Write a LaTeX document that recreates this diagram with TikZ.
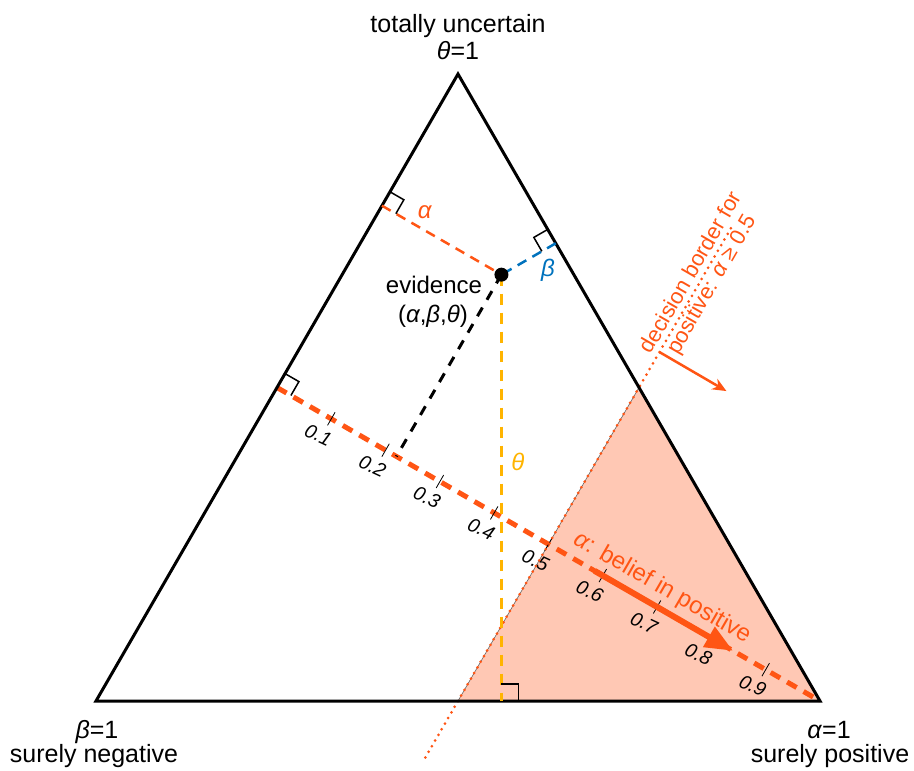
\documentclass[tikz,border=0pt]{standalone}
\usepackage{fontspec}
\setmainfont{Liberation Sans}
\usetikzlibrary{calc,arrows.meta}
\definecolor{orng}{RGB}{255,85,20}
\definecolor{pinkf}{RGB}{255,200,180}
\definecolor{blu}{RGB}{0,114,189}
\definecolor{yel}{RGB}{255,180,0}
\begin{document}
\begin{tikzpicture}[x=1pt,y=-1pt,
  big/.style={font=\fontsize{24}{28}\selectfont, inner sep=0pt},
  corner/.style={font=\fontsize{25}{29}\selectfont, inner sep=0pt},
  ticklab/.style={font=\fontsize{19.5}{22}\selectfont\itshape, inner sep=0pt, rotate=-25},
  thindash/.style={line width=2.5pt, dash pattern=on 10pt off 7pt},
  rmark/.style={line width=1.5pt},
  tickmark/.style={line width=0.8pt}]
\useasboundingbox (0,0) rectangle (914,771);
\coordinate (B) at (96,701);
\coordinate (A) at (820,701);
\coordinate (T) at (458,74);
\coordinate (M) at ($(B)!0.5!(T)$);
\coordinate (MB) at ($(B)!0.5!(A)$);
\coordinate (MR) at ($(A)!0.5!(T)$);
\coordinate (P) at (barycentric cs:A=0.22,B=0.10,T=0.68);
\coordinate (Pa) at ($(B)!(P)!(T)$);
\coordinate (Pb) at ($(A)!(P)!(T)$);
\coordinate (Pt) at ($(B)!(P)!(A)$);
\coordinate (Pax) at ($(M)!(P)!(A)$);
% positive region
\fill[pinkf] (MB) -- (A) -- (MR) -- cycle;
\draw[line width=0.6pt, black!60] (MB) -- (MR);
% alpha axis
\draw[orng, line width=5pt, dash pattern=on 11pt off 8pt] (M) -- (A);
\foreach \k in {1,...,9} {
  \coordinate (t\k) at ($(M)!\k/10!(A)$);
  \draw[tickmark] ($(t\k)+(3.75,-6.5)$) -- ($(t\k)+(-3.75,6.5)$);
  \node[ticklab] (lab\k) at ($(t\k)+(-13,16)$) {0.\k};
}
% decision border
\draw[orng, line width=3pt, line cap=round, dash pattern=on 0pt off 6.5pt] ($(MB)!-0.18!(MR)$) -- ($(MB)!1.52!(MR)$);
\coordinate (d0) at ($(MB)!1.113!(MR)$);
\coordinate (d1) at ($(d0)+(67,39)$);
\draw[orng, line width=2.5pt, -{Stealth[length=14pt,width=12pt]}] (d0) -- (d1);
% big arrow
\draw[orng, line width=6pt, -{Triangle[length=28pt,width=22pt]}] ($(M)!0.585!(A)$) -- ($(M)!0.84!(A)$);
% triangle
\draw[line width=3pt, line join=miter] (B) -- (A) -- (T) -- cycle;
% evidence lines
\draw[orng, thindash] (Pa) -- (P);
\draw[blu, thindash] (Pb) -- (P);
\draw[yel, line width=2.5pt, dash pattern=on 11pt off 8pt] (P) -- (Pt);
\draw[line width=3pt, dash pattern=on 10pt off 9pt] (P) -- (Pax);
\fill (P) circle (7);
% right-angle marks
\draw[rmark] ($(Pa)+(8,-13.9)$) -- ($(Pa)+(21.9,-5.9)$) -- ($(Pa)+(13.9,8)$);
\draw[rmark] ($(M)+(8,-13.9)$) -- ($(M)+(21.9,-5.9)$) -- ($(M)+(13.9,8)$);
\draw[rmark] ($(Pb)+(-8,-13.9)$) -- ($(Pb)+(-21.9,-5.9)$) -- ($(Pb)+(-13.9,8)$);
\draw[rmark] ($(Pt)+(0,-17)$) -- ($(Pt)+(17,-17)$) -- ($(Pt)+(17,0)$);
% labels
\node[corner, anchor=base] (top1) at (458,32) {totally uncertain};
\node[corner, anchor=base] (top2) at (458,59) {\textit{θ}=1};
\node[corner, anchor=base] (bl1) at (97,738) {\textit{β}=1};
\node[corner, anchor=base] (bl2) at (94,762) {surely negative};
\node[corner, anchor=base] (br1) at (829,738) {\textit{α}=1};
\node[corner, anchor=base] (br2) at (830,762) {surely positive};
\node[big, anchor=base] (ev1) at (434,293) {evidence};
\node[big, anchor=base] (ev2) at (433,322) {(\textit{α},\textit{β},\textit{θ})};
\node[big, orng, anchor=base] (la) at (425,218) {\textit{α}};
\node[big, blu] (lb) at (548,270) {\textit{β}};
\node[big, yel] (lt) at (518,462) {\textit{θ}};
\node[big, orng, rotate=-30] (belief) at (662,588) {\textit{α}: belief in positive};
\node[font=\fontsize{22}{24}\selectfont, orng, rotate=60, align=center, inner sep=0pt] (dec) at (702,279) {decision border for\\positive: \textit{α} ≥ 0.5};
\end{tikzpicture}
\end{document}
